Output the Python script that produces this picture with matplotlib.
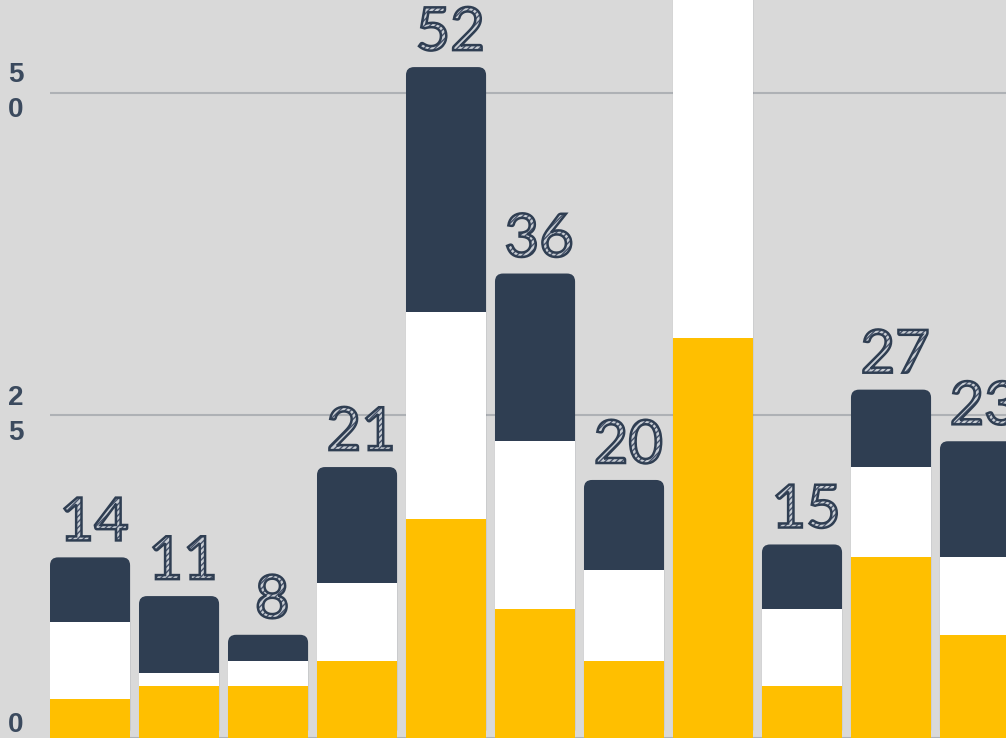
import matplotlib.pyplot as plt
import matplotlib.patheffects as pe
from matplotlib.patches import FancyBboxPatch

# stacked counts
yellow = [3, 4, 4, 6, 17, 10, 6, 31, 4, 14, 8]
white = [6, 1, 2, 6, 16, 13, 7, 30, 6, 7, 6]
navy = [5, 6, 2, 9, 19, 13, 7, 16, 5, 6, 9]
totals = [y + w + n for y, w, n in zip(yellow, white, navy)]
y_ticks = [0, 25, 50]
y_tick_labels = ['0', '2\n5', '5\n0']

bg = '#d9d9d9'
c_yellow = '#ffbf00'
c_navy = '#2f3e52'
width = 0.9

fig = plt.figure(figsize=(10.06, 7.38), dpi=100, facecolor=bg)
ax = fig.add_axes([50 / 1006, 0, 956 / 1006, 1], facecolor=bg)
ax.set_xlim(-0.45, 10.292)
ax.set_ylim(0, 57.2)

x = list(range(len(totals)))

# navy goes under the whole stack so only its top corners show rounded
for xi, t in zip(x, totals):
    box = FancyBboxPatch((xi - width / 2, 0), width, t,
                         boxstyle='round,pad=0,rounding_size=0.09',
                         mutation_aspect=6.9, facecolor=c_navy,
                         edgecolor='none', zorder=2)
    ax.add_patch(box)

bottom_white = [y + w for y, w in zip(yellow, white)]
ax.bar(x, bottom_white, width=width, color='white', zorder=3)
ax.bar(x, yellow, width=width, color=c_yellow, zorder=4)

# sketchy hatched numbers on top
sketch = [pe.PathPatchEffect(facecolor='#c9ced4', edgecolor='#46526a',
                             hatch='//////', linewidth=0),
          pe.PathPatchEffect(facecolor='none', edgecolor=c_navy, linewidth=1.8)]
for xi, t in zip(x, totals):
    txt = ax.annotate(str(t), (xi, t), xytext=(3, 5), textcoords='offset points',
                      ha='center', va='bottom', fontsize=43, family='Lato',
                      color='none', zorder=5)
    txt.set_path_effects(sketch)

ax.set_yticks(y_ticks)
ax.set_yticklabels(y_tick_labels, fontsize=20, fontweight='bold',
                   color='#3b4a5e', family='Liberation Sans', linespacing=1.45)
labels = ax.get_yticklabels()
labels[0].set_va('bottom')
labels[1].set_va('center')
labels[2].set_va('center')
ax.tick_params(axis='y', length=0, pad=19)
ax.set_xticks([])
ax.yaxis.grid(True, color='#aeb1b5', linewidth=1.5, zorder=0)
ax.set_axisbelow(True)
for s in ax.spines.values():
    s.set_visible(False)

fig.savefig('out.png', dpi=100, facecolor=bg)
